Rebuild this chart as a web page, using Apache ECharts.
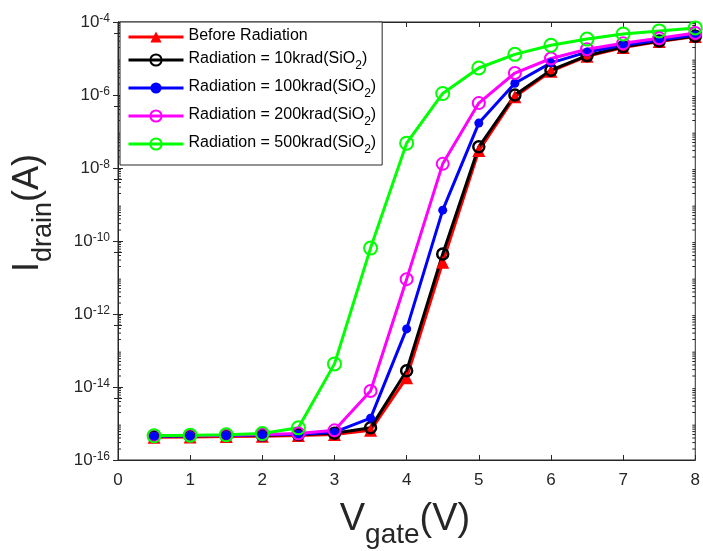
<!DOCTYPE html>
<html>
<head>
<meta charset="utf-8">
<script src="https://cdn.jsdelivr.net/npm/echarts@6/dist/echarts.min.js"></script>
<style>
  html, body { margin: 0; padding: 0; background: #fff; }
  #chart { width: 703px; height: 551px; }
</style>
</head>
<body>
<div id="chart"></div>
<script>
// gate voltage (V)
const vGate = [0.5, 1, 1.5, 2, 2.5, 3, 3.5, 4, 4.5, 5, 5.5, 6, 6.5, 7, 7.5, 8];

// drain current (A)
const beforeRad = [4.2e-16, 4.3e-16, 4.4e-16, 4.5e-16, 4.7e-16, 5.0e-16, 6.5e-16, 1.8e-14, 2.6e-11, 3.0e-8, 9.0e-7, 4.5e-6, 1.15e-5, 2.0e-5, 2.9e-5, 4.0e-5];
const rad10k = [4.5e-16, 4.6e-16, 4.7e-16, 4.8e-16, 5.0e-16, 5.4e-16, 7.6e-16, 2.8e-14, 4.4e-11, 3.8e-8, 1.0e-6, 4.8e-6, 1.2e-5, 2.1e-5, 3.0e-5, 4.1e-5];
const rad100k = [4.5e-16, 4.6e-16, 4.7e-16, 4.9e-16, 5.1e-16, 5.8e-16, 1.4e-15, 3.9e-13, 7.0e-10, 1.7e-7, 2.1e-6, 7.6e-6, 1.5e-5, 2.3e-5, 3.2e-5, 4.4e-5];
const rad200k = [4.6e-16, 4.7e-16, 4.8e-16, 5.0e-16, 5.3e-16, 6.5e-16, 7.8e-15, 9.0e-12, 1.3e-8, 6.0e-7, 4.0e-6, 1.0e-5, 1.8e-5, 2.6e-5, 3.6e-5, 5.0e-5];
const rad500k = [4.6e-16, 4.8e-16, 4.9e-16, 5.3e-16, 7.6e-16, 4.3e-14, 6.4e-11, 4.8e-8, 1.1e-6, 5.5e-6, 1.3e-5, 2.3e-5, 3.4e-5, 4.7e-5, 5.7e-5, 6.9e-5];

const seriesNames = [
    'Before Radiation',
    'Radiation = 10krad(SiO2)',
    'Radiation = 100krad(SiO2)',
    'Radiation = 200krad(SiO2)',
    'Radiation = 500krad(SiO2)'
];

// small log ticks (2..9 x 10^e) like the matlab axis
const minorTickValues = [];
for (let e = -16; e < -4; e++) {
    for (let k = 2; k <= 9; k++) minorTickValues.push(k * Math.pow(10, e));
}

const axisColor = '#262626';

function pairs(ys) {
    return vGate.map((x, i) => [x, ys[i]]);
}

function lineSeries(name, ys, color, symbol, size, filled, border) {
    return {
        name: name,
        type: 'line',
        data: pairs(ys),
        symbol: symbol,
        symbolSize: size,
        showSymbol: true,
        lineStyle: { color: color, width: 3 },
        itemStyle: {
            color: filled ? color : 'rgba(0,0,0,0)',
            borderColor: color,
            borderWidth: border
        },
        emphasis: { disabled: true }
    };
}

const myChart = echarts.init(document.getElementById('chart'), null, { renderer: 'canvas' });

const option = {
    animation: false,
    backgroundColor: '#fff',
    grid: {
        left: 118, right: 6, top: 22, bottom: 91,
        show: true, borderColor: axisColor, borderWidth: 1
    },
    legend: {
        orient: 'vertical',
        left: 120,
        top: 22,
        data: seriesNames,
        itemWidth: 55,
        itemHeight: 14,
        itemGap: 7,
        padding: [6, 6, 9, 7],
        backgroundColor: '#fff',
        borderColor: axisColor,
        borderWidth: 1,
        borderRadius: 0,
        lineStyle: { width: 3 },
        formatter: function (name) {
            if (name.indexOf('SiO2') >= 0) {
                return '{m|' + name.replace('SiO2)', 'SiO') + '}{s|2}{m|)}';
            }
            return '{m|' + name + '}';
        },
        textStyle: {
            fontFamily: 'Liberation Sans',
            color: '#000',
            rich: {
                m: { fontSize: 16, lineHeight: 18, verticalAlign: 'top', fontFamily: 'Liberation Sans', color: '#000' },
                s: { fontSize: 12, lineHeight: 12, padding: [9, 0, 0, 0], verticalAlign: 'top', fontFamily: 'Liberation Sans', color: '#000' }
            }
        }
    },
    xAxis: [
        {
            type: 'value',
            min: 0, max: 8, interval: 1,
            axisLine: { show: true, onZero: false, lineStyle: { color: axisColor } },
            axisTick: { show: true, inside: true, length: 5, lineStyle: { color: axisColor } },
            axisLabel: { color: axisColor, fontSize: 17, fontFamily: 'Liberation Sans', margin: 12 },
            splitLine: { show: false }
        },
        {
            type: 'value', position: 'top',
            min: 0, max: 8, interval: 1,
            axisLine: { show: true, lineStyle: { color: axisColor } },
            axisTick: { show: true, inside: true, length: 5, lineStyle: { color: axisColor } },
            axisLabel: { show: false },
            splitLine: { show: false }
        }
    ],
    yAxis: [
        {
            type: 'log',
            min: 1e-16, max: 1e-4, interval: 2,
            axisLine: { show: true, onZero: false, lineStyle: { color: axisColor } },
            axisTick: { show: true, inside: true, length: 5, lineStyle: { color: axisColor } },
            minorTick: { show: true, splitNumber: 2, length: 4, lineStyle: { color: axisColor } },
            axisLabel: {
                margin: 8,
                formatter: function (v) {
                    return '{b|10}{s|' + Math.round(Math.log10(v)) + '}';
                },
                rich: {
                    b: { fontSize: 17, lineHeight: 18, verticalAlign: 'bottom', color: axisColor, fontFamily: 'Liberation Sans' },
                    s: { fontSize: 12, lineHeight: 13, padding: [0, 0, 9, 0], verticalAlign: 'top', color: axisColor, fontFamily: 'Liberation Sans' }
                }
            },
            splitLine: { show: false }
        },
        {
            type: 'log', position: 'right',
            min: 1e-16, max: 1e-4, interval: 2,
            axisLine: { show: true, lineStyle: { color: axisColor } },
            axisTick: { show: true, inside: true, length: 5, lineStyle: { color: axisColor } },
            minorTick: { show: true, splitNumber: 2, length: 4, lineStyle: { color: axisColor } },
            axisLabel: { show: false },
            splitLine: { show: false }
        }
    ],
    graphic: [
        {
            type: 'text',
            x: 405, y: 521,
            style: {
                text: '{m|V}{s|gate}{m|(V)}',
                align: 'center', verticalAlign: 'middle',
                fill: axisColor,
                rich: {
                    m: { fontSize: 38, lineHeight: 40, verticalAlign: 'top', fontFamily: 'Liberation Sans', fill: axisColor },
                    s: { fontSize: 28, lineHeight: 28, padding: [20, 0, 0, 0], verticalAlign: 'top', fontFamily: 'Liberation Sans', fill: axisColor }
                }
            }
        },
        {
            type: 'text',
            x: 30, y: 213,
            rotation: Math.PI / 2,
            style: {
                text: '{m|I}{s|drain}{m|(A)}',
                align: 'center', verticalAlign: 'middle',
                fill: axisColor,
                rich: {
                    m: { fontSize: 36, lineHeight: 40, verticalAlign: 'top', fontFamily: 'Liberation Sans', fill: axisColor },
                    s: { fontSize: 27, lineHeight: 27, padding: [20, 0, 0, 0], verticalAlign: 'top', fontFamily: 'Liberation Sans', fill: axisColor }
                }
            }
        }
    ],
    series: [
        {
            name: 'minorTicks',
            type: 'custom',
            silent: true,
            z: 1,
            data: minorTickValues.map(v => [0, v]),
            renderItem: function (params, api) {
                const cs = params.coordSys;
                const y = api.coord([0, api.value(1)])[1];
                const style = { stroke: axisColor, lineWidth: 1 };
                return {
                    type: 'group',
                    children: [
                        { type: 'line', shape: { x1: cs.x, y1: y, x2: cs.x + 3, y2: y }, style: style },
                        { type: 'line', shape: { x1: cs.x + cs.width - 3, y1: y, x2: cs.x + cs.width, y2: y }, style: style }
                    ]
                };
            }
        },
        lineSeries(seriesNames[0], beforeRad, '#ff0000', 'triangle', 13, true, 0),
        lineSeries(seriesNames[1], rad10k, '#000000', 'circle', 11, false, 2.5),
        lineSeries(seriesNames[2], rad100k, '#0000ff', 'circle', 9, true, 0),
        lineSeries(seriesNames[3], rad200k, '#ff00ff', 'circle', 12, false, 2),
        lineSeries(seriesNames[4], rad500k, '#00ff00', 'circle', 13, false, 2)
    ]
};

myChart.setOption(option);
</script>
</body>
</html>
